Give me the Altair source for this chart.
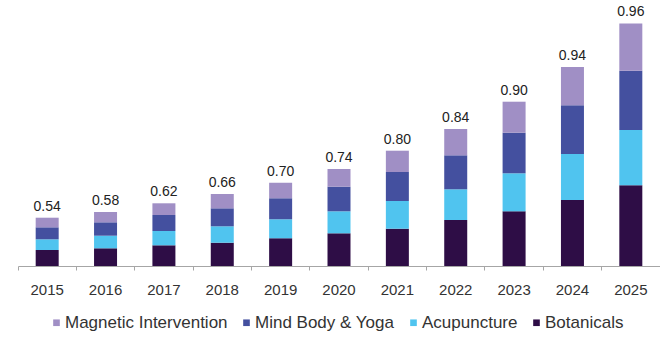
import altair as alt
import pandas as pd

years = ["2015", "2016", "2017", "2018", "2019", "2020", "2021", "2022", "2023", "2024", "2025"]
totals = ["0.54", "0.58", "0.62", "0.66", "0.70", "0.74", "0.80", "0.84", "0.90", "0.94", "0.96"]
segments = ["Magnetic Intervention", "Mind Body & Yoga", "Acupuncture", "Botanicals"]
colors = ["#a08fc5", "#44509f", "#50c4ef", "#2e0d46"]

# relative bar segment heights as drawn
botanicals = [16.0, 17.7, 20.7, 23.3, 27.7, 32.7, 37.3, 46.0, 54.7, 66.0, 80.7]
acupuncture = [10.7, 12.6, 14.3, 16.4, 19.0, 22.0, 27.7, 30.7, 38.0, 46.0, 55.3]
mind_body = [12.0, 13.4, 16.0, 18.0, 21.0, 24.6, 29.0, 34.0, 40.6, 48.7, 59.3]
magnetic = [9.6, 10.3, 11.7, 14.3, 15.6, 17.7, 21.3, 26.3, 31.0, 38.3, 47.3]

series = {
    "Botanicals": botanicals,
    "Acupuncture": acupuncture,
    "Mind Body & Yoga": mind_body,
    "Magnetic Intervention": magnetic,
}
stack_order = {"Botanicals": 0, "Acupuncture": 1, "Mind Body & Yoga": 2, "Magnetic Intervention": 3}

rows = []
for name, vals in series.items():
    for y, v in zip(years, vals):
        rows.append({"year": y, "segment": name, "value": v, "ord": stack_order[name]})
df = pd.DataFrame(rows)

tot = df.groupby("year", as_index=False)["value"].sum()
tot["label"] = totals
FONT = "Liberation Sans"

x_enc = alt.X(
    "year:N",
    sort=years,
    scale=alt.Scale(paddingInner=0, paddingOuter=0),
    axis=alt.Axis(
        title=None,
        labelAngle=0,
        labelFontSize=15,
        labelFont=FONT,
        labelColor="#333333",
        labelPadding=12,
        tickSize=4,
        tickColor="#a6a6a6",
        domainColor="#a6a6a6",
        bandPosition=0,
        grid=False,
    ),
)
y_scale = alt.Scale(domain=[0, 250], nice=False)

bars = alt.Chart(df).mark_bar(size=23).encode(
    x=x_enc,
    y=alt.Y("value:Q", stack="zero", scale=y_scale, axis=None),
    color=alt.Color(
        "segment:N",
        scale=alt.Scale(domain=segments, range=colors),
        legend=alt.Legend(
            title=None,
            orient="none",
            legendX=30,
            legendY=298,
            direction="horizontal",
            symbolType="square",
            symbolSize=44,
            symbolStrokeWidth=0,
            labelFontSize=17,
            labelFont=FONT,
            labelColor="#333333",
            labelLimit=0,
            labelOffset=0,
            columnPadding=10,
            padding=0,
        ),
    ),
    order=alt.Order("ord:Q", sort="ascending"),
)

labels = alt.Chart(tot).mark_text(
    baseline="bottom", dy=-4, fontSize=14, font=FONT, color="#222222"
).encode(
    x=alt.X("year:N", sort=years),
    y=alt.Y("value:Q", scale=y_scale),
    text="label:N",
)

chart = (
    alt.layer(bars, labels)
    .properties(
        width=642,
        height=250,
        padding={"left": 18, "top": 16, "right": 0, "bottom": 84},
        autosize=alt.AutoSizeParams(type="none"),
        background="white",
    )
    .configure_view(stroke=None)
)

chart.save("out.html", embed_options={"renderer": "svg", "actions": False})
